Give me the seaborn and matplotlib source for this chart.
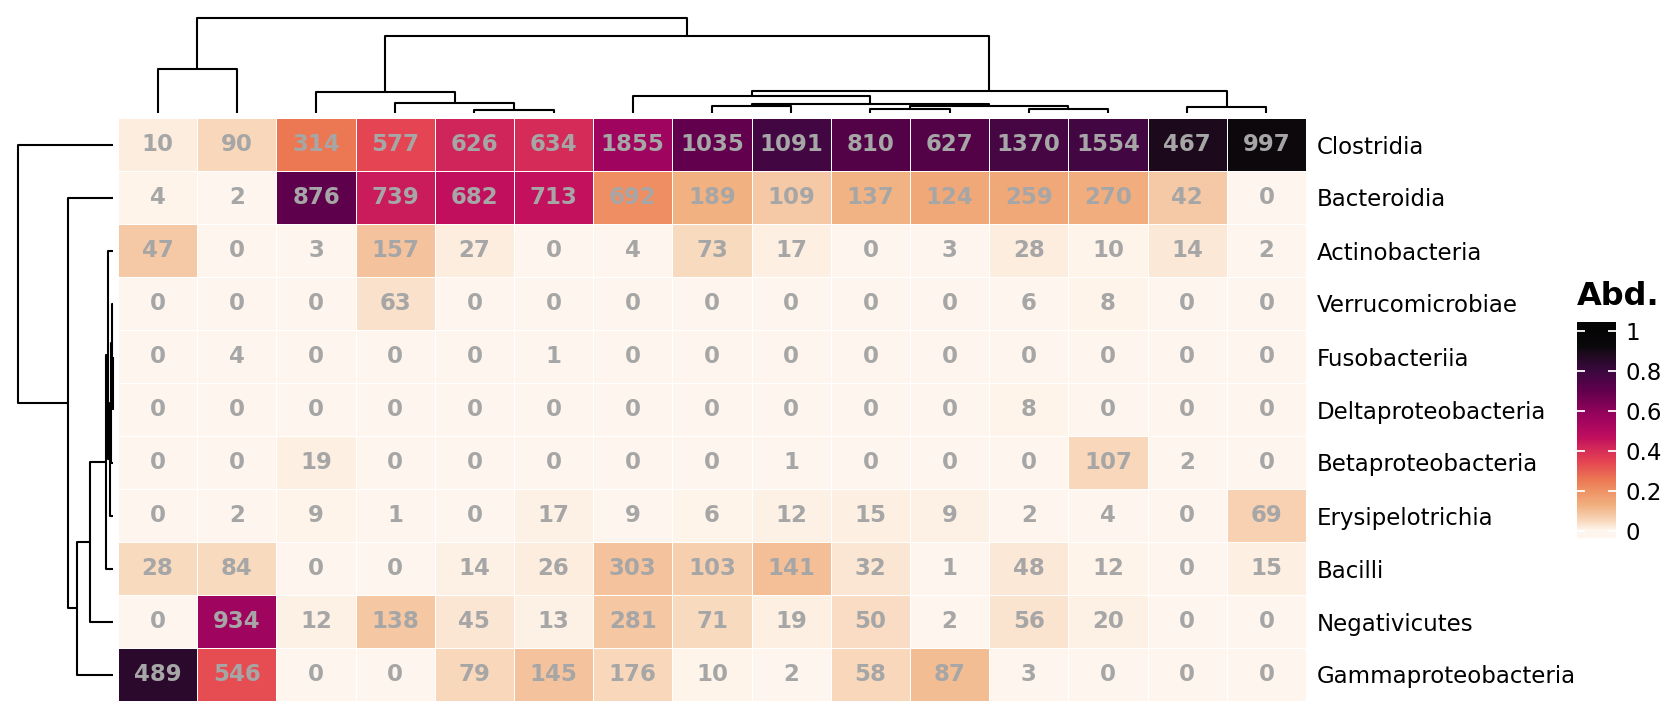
import numpy as np
import pandas as pd
import matplotlib
matplotlib.use("Agg")
import matplotlib.pyplot as plt
from matplotlib.colors import LinearSegmentedColormap
import seaborn as sns

# ---------------- data (counts, rows = taxa, columns = samples) ----------------
taxa = ["Clostridia", "Bacteroidia", "Actinobacteria", "Verrucomicrobiae",
        "Fusobacteriia", "Deltaproteobacteria", "Betaproteobacteria",
        "Erysipelotrichia", "Bacilli", "Negativicutes", "Gammaproteobacteria"]
samples = [f"S{i}" for i in range(1, 16)]

clostridia          = [10, 90, 314, 577, 626, 634, 1855, 1035, 1091, 810, 627, 1370, 1554, 467, 997]
bacteroidia         = [4, 2, 876, 739, 682, 713, 692, 189, 109, 137, 124, 259, 270, 42, 0]
actinobacteria      = [47, 0, 3, 157, 27, 0, 4, 73, 17, 0, 3, 28, 10, 14, 2]
verrucomicrobiae    = [0, 0, 0, 63, 0, 0, 0, 0, 0, 0, 0, 6, 8, 0, 0]
fusobacteriia       = [0, 4, 0, 0, 0, 1, 0, 0, 0, 0, 0, 0, 0, 0, 0]
deltaproteobacteria = [0, 0, 0, 0, 0, 0, 0, 0, 0, 0, 0, 8, 0, 0, 0]
betaproteobacteria  = [0, 0, 19, 0, 0, 0, 0, 0, 1, 0, 0, 0, 107, 2, 0]
erysipelotrichia    = [0, 2, 9, 1, 0, 17, 9, 6, 12, 15, 9, 2, 4, 0, 69]
bacilli             = [28, 84, 0, 0, 14, 26, 303, 103, 141, 32, 1, 48, 12, 0, 15]
negativicutes       = [0, 934, 12, 138, 45, 13, 281, 71, 19, 50, 2, 56, 20, 0, 0]
gammaproteobacteria = [489, 546, 0, 0, 79, 145, 176, 10, 2, 58, 87, 3, 0, 0, 0]

counts = pd.DataFrame(
    [clostridia, bacteroidia, actinobacteria, verrucomicrobiae, fusobacteriia,
     deltaproteobacteria, betaproteobacteria, erysipelotrichia, bacilli,
     negativicutes, gammaproteobacteria],
    index=taxa, columns=samples)

# relative abundance per sample
rel = counts / counts.sum(axis=0)

# colour gradient (light cream -> orange -> red -> magenta -> purple -> black)
cmap_stops = [
    (0.00, "#FEF6EE"), (0.05, "#F8D8BC"), (0.127, "#F1B080"),
    (0.208, "#EE8E62"), (0.255, "#EC7853"), (0.344, "#E54552"),
    (0.425, "#D0245A"), (0.463, "#C10F5D"), (0.559, "#A0045F"),
    (0.71, "#5E004C"), (0.80, "#3C0840"), (0.89, "#1C0A1C"),
    (0.92, "#0C080C"), (1.00, "#050505"),
]
abd_cmap = LinearSegmentedColormap.from_list("abd", cmap_stops)


# ---------------- hierarchical clustering (Ward, euclidean) ----------------
def ward_linkage(X):
    X = np.asarray(X, float)
    n = len(X)
    D = np.sqrt(((X[:, None, :] - X[None, :, :]) ** 2).sum(-1))
    dist = {}
    for i in range(n):
        for j in range(i + 1, n):
            dist[(i, j)] = D[i, j]
    size = {i: 1 for i in range(n)}
    leaves = {i: [i] for i in range(n)}
    active = list(range(n))
    Z = []

    def d(a, b):
        return dist[(a, b)] if (a, b) in dist else dist[(b, a)]

    for step in range(n - 1):
        best = None
        for ii in range(len(active)):
            for jj in range(ii + 1, len(active)):
                a, b = active[ii], active[jj]
                v = d(a, b)
                if best is None or v < best[0] - 1e-15:
                    best = (v, a, b)
        h, a, b = best
        new = n + step
        na, nb = size[a], size[b]
        for k in active:
            if k in (a, b):
                continue
            nk = size[k]
            val = ((na + nk) * d(k, a) ** 2 + (nb + nk) * d(k, b) ** 2
                   - nk * h ** 2) / (na + nb + nk)
            dist[(k, new)] = np.sqrt(max(val, 0.0))
        # put child holding the earlier data position first
        if min(leaves[a]) > min(leaves[b]):
            a, b = b, a
        size[new] = na + nb
        leaves[new] = leaves[a] + leaves[b]
        active = [k for k in active if k not in (a, b)] + [new]
        Z.append((a, b, h, na + nb))
    return Z, leaves


def dendro_segments(Z, leaves, n):
    root = n + len(Z) - 1
    order = leaves[root]
    pos = {leaf: i + 0.5 for i, leaf in enumerate(order)}
    hgt = {leaf: 0.0 for leaf in order}
    segs = []
    for k, (a, b, h, _) in enumerate(Z):
        new = n + k
        segs.append(([pos[a], pos[a], pos[b], pos[b]], [hgt[a], h, h, hgt[b]]))
        pos[new] = (pos[a] + pos[b]) / 2
        hgt[new] = h
    return order, segs, Z[-1][2]


Zc, leaves_c = ward_linkage(rel.T.values)
Zr, leaves_r = ward_linkage(rel.values)
col_order, col_segs, col_top = dendro_segments(Zc, leaves_c, rel.shape[1])
row_order, row_segs, row_top = dendro_segments(Zr, leaves_r, rel.shape[0])

rel_o = rel.iloc[row_order, col_order]
counts_o = counts.iloc[row_order, col_order]

# ---------------- figure ----------------
W, H = 1680, 720
fig = plt.figure(figsize=(W / 100, H / 100), dpi=100)


def px_axes(x0, y0, x1, y1):
    return fig.add_axes([x0 / W, 1 - y1 / H, (x1 - x0) / W, (y1 - y0) / H])


ax = px_axes(118, 118, 1306, 701)
ax_col = px_axes(118, 18, 1306, 113)
ax_row = px_axes(18, 118, 113, 701)
# box includes the end extensions; the 0..1 part spans 331..531 px
cax = px_axes(1577, 322, 1616, 538)

sns.heatmap(rel_o, ax=ax, cmap=abd_cmap, vmin=0, vmax=1,
            annot=counts_o, fmt="d",
            annot_kws={"color": "#a6a6a6", "weight": "bold", "size": 16.5},
            linewidths=0.5, linecolor="white",
            xticklabels=False, yticklabels=True,
            cbar_ax=cax,
            cbar_kws={"extend": "both", "extendrect": True,
                      "extendfrac": (0.035, 0.045),
                      "ticks": [0, 0.2, 0.4, 0.6, 0.8, 1]})
ax.set_xlabel("")
ax.set_ylabel("")
ax.yaxis.tick_right()
ax.tick_params(axis="y", length=0, pad=8, labelsize=16.5, labelrotation=0)
ax.tick_params(axis="x", length=0)

# colorbar styling
cbar = ax.collections[0].colorbar
cbar.outline.set_visible(False)
cax.yaxis.set_ticks_position("both")
cax.tick_params(axis="y", direction="in", color="white", width=1.3, length=6,
                labelsize=16.5, pad=7, left=True, right=True,
                labelleft=False, labelright=True)
cax.yaxis.set_major_formatter(matplotlib.ticker.FuncFormatter(lambda v, p: f"{v:g}"))
fig.text(1577 / W, 1 - 305 / H, "Abd.", ha="left", va="baseline",
         fontsize=23, weight="bold")

# dendrograms
for xs, ys in col_segs:
    ax_col.plot(xs, ys, color="black", lw=1.5, clip_on=False,
                solid_capstyle="butt")
ax_col.set_xlim(0, rel.shape[1])
ax_col.set_ylim(0, col_top)
ax_col.axis("off")

for ys, xs in row_segs:
    ax_row.plot(xs, ys, color="black", lw=1.5, clip_on=False,
                solid_capstyle="butt")
ax_row.set_ylim(rel.shape[0], 0)
ax_row.set_xlim(row_top, 0)
ax_row.axis("off")

fig.savefig("out.png", dpi=100)
